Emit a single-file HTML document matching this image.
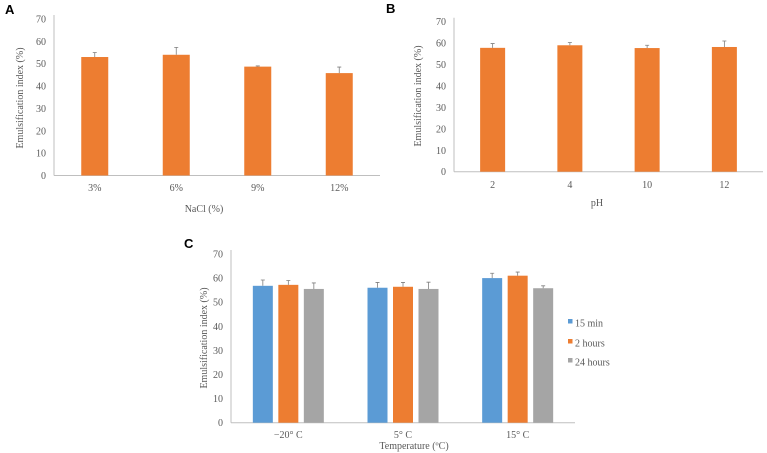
<!DOCTYPE html>
<html><head><meta charset="utf-8"><style>
html,body{margin:0;padding:0;background:#fff;}
svg{display:block;font-family:"Liberation Serif",serif;}
.t{fill:#595959;font-size:10px;}
.p{font-family:"Liberation Sans",sans-serif;font-weight:bold;font-size:13px;fill:#000;}
</style></head><body>
<svg id="fig" width="767" height="453" viewBox="0 0 767 453">
<text class="p" x="5" y="14">A</text>
<text class="p" x="386" y="13">B</text>
<text class="p" x="184" y="248">C</text>
</svg>
<script>
const ticks=[0,10,20,30,40,50,60,70];
const catsA=["3%","6%","9%","12%"];
const valsA=[53,54,48.7,45.8];
const errA=[2,3.3,0.3,2.7];
const catsB=["2","4","10","12"];
const valsB=[57.8,59,57.7,58.2];
const errB=[2,1.3,1.3,2.8];
const catsC=["\u221220\u00b0 C","5\u00b0 C","15\u00b0 C"];
const seriesC=["15 min","2 hours","24 hours"];
const min15=[56.8,56,60];
const hours2=[57.2,56.4,61];
const hours24=[55.5,55.5,55.8];
const errMin15=[2.4,2.2,2];
const errHours2=[1.8,1.8,1.5];
const errHours24=[2.5,2.8,1];

const svg=document.getElementById('fig');
const NS="http://www.w3.org/2000/svg";
function el(tag,attrs,parent){const e=document.createElementNS(NS,tag);for(const k in attrs)e.setAttribute(k,attrs[k]);(parent||svg).appendChild(e);return e;}
function txt(x,y,s,anchor,parent){const e=el('text',{x:x,y:y,'text-anchor':anchor||'middle',class:'t'},parent);e.textContent=s;return e;}

function chart(cfg){
  const g=el('g',{});
  
  
  const y=v=>cfg.y0-(v/70)*(cfg.y0-cfg.y70);
  const ax=el('line',{x1:cfg.x0,y1:cfg.y70-4,x2:cfg.x0,y2:cfg.y0,stroke:'#bfbfbf','stroke-width':1},g);
  
  
  const bx=el('line',{x1:cfg.x0,y1:cfg.y0,x2:cfg.x1,y2:cfg.y0,stroke:'#bfbfbf','stroke-width':1},g);
  
  
  ticks.forEach(t=>{const e=txt(cfg.x0-8,y(t)+3.5,String(t),'end',g);
    
    });
  const n=cfg.cats.length, gw=(cfg.x1-cfg.x0)/n;
  cfg.cats.forEach((c,i)=>{
    const cx=cfg.x0+gw*(i+0.5);
    const ns=cfg.series.length;
    cfg.series.forEach((s,j)=>{
      const bx0=cx-(ns*cfg.bw+(ns-1)*cfg.gap)/2+j*(cfg.bw+cfg.gap);
      const v=s.vals[i];
      const r=el('rect',{x:bx0,y:y(v),width:cfg.bw,height:cfg.y0-y(v),fill:s.color},g);
      
      
      const ex=bx0+cfg.bw/2, et=y(v+s.err[i]);
      const l=el('path',{d:`M${ex} ${y(v)}V${et}M${ex-2} ${et}H${ex+2}`,stroke:'#7f7f7f','stroke-width':0.8,fill:'none'},g);
      
      
    });
    const lt=txt(cx,cfg.labY,c,'middle',g);
    
    
  });
  const xt=txt(cfg.xtX,cfg.xtY,cfg.xTitle,'middle',g);
  
  
  const yt=txt(0,0,'Emulsification index (%)','middle',g);
  yt.setAttribute('transform',`translate(${cfg.ytX},${cfg.ytY}) rotate(-90)`);
  
  
}
chart({name:'chart-nacl',x0:54,x1:380,y0:175.5,y70:19,bw:27,gap:0,cats:catsA,
  series:[{vals:valsA,err:errA,color:'#ED7D31'}],labY:191,xtX:204,xtY:212,xTitle:'NaCl (%)',ytX:23,ytY:98});
chart({name:'chart-ph',x0:454,x1:763,y0:171.7,y70:21.7,bw:25,gap:0,cats:catsB,
  series:[{vals:valsB,err:errB,color:'#ED7D31'}],labY:188,xtX:597,xtY:206,xTitle:'pH',ytX:421,ytY:96});
chart({name:'chart-temperature',x0:231,x1:575,y0:422.7,y70:254,bw:20,gap:5.5,cats:catsC,
  series:[{vals:min15,err:errMin15,color:'#5B9BD5'},{vals:hours2,err:errHours2,color:'#ED7D31'},{vals:hours24,err:errHours24,color:'#A5A5A5'}],
  labY:438,xtX:414,xtY:449,xTitle:'Temperature (\u00baC)',ytX:207,ytY:338});
const legColors=['#5B9BD5','#ED7D31','#A5A5A5'];
const legY=[323,343,362];
seriesC.forEach((s,i)=>{
  const r=el('rect',{x:568,y:legY[i]-4,width:4.5,height:4.5,fill:legColors[i]});
  
  
  const t=txt(575,legY[i]+3.5,s,'start');
  
  
});
</script>
</body></html>
